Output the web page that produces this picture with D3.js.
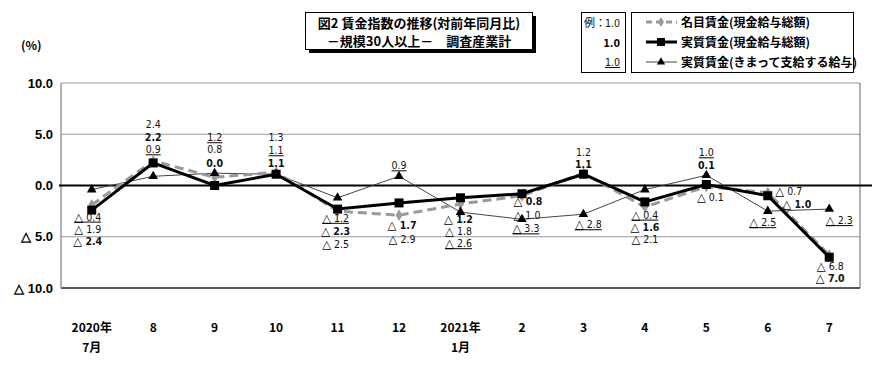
<!DOCTYPE html>
<html>
<head>
<meta charset="utf-8">
<script src="https://cdn.jsdelivr.net/npm/d3@7"></script>
<style>
  body { margin: 0; background: #fff; }
  svg { display: block; }
  .lbl { font-family: "DejaVu Sans Condensed", "DejaVu Sans", sans-serif; font-size: 10.5px; fill: #111; }
  .tri { font-family: "DejaVu Sans", sans-serif; font-size: 11.5px; fill: #000; }
  .jp { font-family: "Noto Sans CJK JP", sans-serif; font-weight: 700; fill: #000; }
</style>
</head>
<body>
<div id="chart"></div>
<script>
// months (2020年7月 .. 2021年7月)
const months = [`2020年|7月`, `8`, `9`, `10`, `11`, `12`, `2021年|1月`, `2`, `3`, `4`, `5`, `6`, `7`];
// 名目賃金（現金給与総額）
const nominal = [-1.9, 2.4, 0.8, 1.3, -2.5, -2.9, -1.8, -1.0, 1.2, -2.1, -0.1, -0.7, -6.8];
// 実質賃金（現金給与総額）
const realTotal = [-2.4, 2.2, 0.0, 1.1, -2.3, -1.7, -1.2, -0.8, 1.1, -1.6, 0.1, -1.0, -7.0];
// 実質賃金（きまって支給する給与）
const realScheduled = [-0.4, 0.9, 1.2, 1.1, -1.2, 0.9, -2.6, -3.3, -2.8, -0.4, 1.0, -2.5, -2.3];
const yTicks = [10, 5, 0, -5, -10];

// label placement relative to each point [dx, dy]
const offNominal = [[-4, 24], [0, -37], [0, -28], [0, -35], [-2, 33], [3, 24], [-2, 27], [5, 19], [0, -21], [0, 32], [4, 10], [21, -2], [1, 11]];
const offReal = [[-4, 31], [0, -26], [0, -23], [0, -11], [-2, 22], [3, 22], [-2, 21], [6, 7], [0, -10], [0, 25], [0, -19], [29, 8], [1, 21]];
const offSched = [[-4, 27], [0, -27], [0, -36], [0, -24], [-2, 20], [0, -11], [-2, 31], [4, 9], [5, 10], [0, 25], [0, -23], [-5, 11], [10, 11]];

const width = 890;
const height = 368;
const plot = {left: 61, right: 860, top: 83, bottom: 288};

const svg = d3.select(`#chart`).append(`svg`)
  .attr(`width`, width)
  .attr(`height`, height);

const x = d3.scalePoint()
  .domain(d3.range(months.length))
  .range([plot.left, plot.right])
  .padding(0.5);

const y = d3.scaleLinear()
  .domain([-10, 10])
  .range([plot.bottom, plot.top]);

// grid lines
svg.append(`g`)
  .selectAll(`line`)
  .data(yTicks.filter(d => d !== 0))
  .enter().append(`line`)
    .attr(`x1`, plot.left)
    .attr(`x2`, plot.right)
    .attr(`y1`, d => y(d))
    .attr(`y2`, d => y(d))
    .attr(`stroke`, d => d === -10 ? `#222` : `#999`)
    .attr(`stroke-width`, d => d === -10 ? 1.5 : 1);

// plot frame
svg.append(`line`)
  .attr(`x1`, plot.left).attr(`x2`, plot.left)
  .attr(`y1`, plot.top).attr(`y2`, plot.bottom)
  .attr(`stroke`, `#999`).attr(`stroke-width`, 1.5);
svg.append(`line`)
  .attr(`x1`, plot.right).attr(`x2`, plot.right)
  .attr(`y1`, plot.top).attr(`y2`, plot.bottom)
  .attr(`stroke`, `#666`).attr(`stroke-width`, 1);

// zero line
svg.append(`line`)
  .attr(`x1`, plot.left - 2).attr(`x2`, plot.right + 12)
  .attr(`y1`, y(0)).attr(`y2`, y(0))
  .attr(`stroke`, `#000`).attr(`stroke-width`, 2);

// y axis labels
const yAxis = d3.axisLeft(y)
  .tickValues(yTicks)
  .tickSize(0)
  .tickPadding(8)
  .tickFormat(d => d < 0 ? `△ ${Math.abs(d).toFixed(1)}` : d.toFixed(1));
const yG = svg.append(`g`)
  .attr(`transform`, `translate(${plot.left},0)`)
  .call(yAxis);
yG.select(`.domain`).remove();
yG.selectAll(`text`)
  .attr(`font-family`, `"Liberation Sans", Arial, sans-serif`)
  .attr(`font-size`, 13)
  .attr(`font-weight`, 700)
  .attr(`fill`, `#000`);

svg.append(`text`)
  .attr(`class`, `jp`)
  .attr(`x`, 21).attr(`y`, 50)
  .attr(`font-size`, 12)
  .text(`(%)`);

// x axis labels
const xG = svg.append(`g`);
months.forEach((m, i) => {
  const parts = m.split(`|`);
  parts.forEach((p, j) => {
    xG.append(`text`)
      .attr(`class`, `jp`)
      .attr(`x`, x(i))
      .attr(`y`, 332 + j * 20)
      .attr(`text-anchor`, `middle`)
      .attr(`font-size`, 12)
      .text(p);
  });
});

// series lines
const line = d3.line()
  .x((d, i) => x(i))
  .y(d => y(d));

svg.append(`path`)
  .datum(realScheduled)
  .attr(`fill`, `none`)
  .attr(`stroke`, `#444`)
  .attr(`stroke-width`, 1)
  .attr(`d`, line);

svg.append(`path`)
  .datum(nominal)
  .attr(`fill`, `none`)
  .attr(`stroke`, `#999`)
  .attr(`stroke-width`, 3)
  .attr(`stroke-dasharray`, `9,5`)
  .attr(`d`, line);

svg.append(`path`)
  .datum(realTotal)
  .attr(`fill`, `none`)
  .attr(`stroke`, `#000`)
  .attr(`stroke-width`, 3)
  .attr(`d`, line);

// markers
svg.append(`g`).selectAll(`path`)
  .data(nominal)
  .enter().append(`path`)
    .attr(`d`, d3.symbol(d3.symbolDiamond, 40))
    .attr(`transform`, (d, i) => `translate(${x(i)},${y(d)})`)
    .attr(`fill`, `#999`);

svg.append(`g`).selectAll(`path`)
  .data(realScheduled)
  .enter().append(`path`)
    .attr(`d`, d3.symbol(d3.symbolTriangle, 40))
    .attr(`transform`, (d, i) => `translate(${x(i)},${y(d)})`)
    .attr(`fill`, `#000`);

svg.append(`g`).selectAll(`rect`)
  .data(realTotal)
  .enter().append(`rect`)
    .attr(`x`, (d, i) => x(i) - 4.5)
    .attr(`y`, d => y(d) - 4.5)
    .attr(`width`, 9)
    .attr(`height`, 9)
    .attr(`fill`, `#000`);

// data labels
const addLabels = (values, offs, weight, underline) => {
  const t = svg.append(`g`).selectAll(`text`)
    .data(values)
    .enter().append(`text`)
      .attr(`class`, `lbl`)
      .attr(`x`, (d, i) => x(i) + offs[i][0])
      .attr(`y`, (d, i) => y(d) + offs[i][1] + 4)
      .attr(`text-anchor`, `middle`)
      .style(`font-weight`, weight)
      .attr(`text-decoration`, underline ? `underline` : null);
  t.filter(d => d < 0).append(`tspan`)
    .attr(`class`, `tri`)
    .text(`△`);
  t.append(`tspan`)
    .text(d => d < 0 ? ` ${Math.abs(d).toFixed(1)}` : d.toFixed(1));
};
addLabels(nominal, offNominal, 400, false);
addLabels(realTotal, offReal, 700, false);
addLabels(realScheduled, offSched, 400, true);

// title box
svg.append(`rect`)
  .attr(`x`, 309).attr(`y`, 16)
  .attr(`width`, 227).attr(`height`, 37)
  .attr(`fill`, `#000`);
svg.append(`rect`)
  .attr(`x`, 305.5).attr(`y`, 12.5)
  .attr(`width`, 227).attr(`height`, 37)
  .attr(`fill`, `#fff`)
  .attr(`stroke`, `#000`);
svg.append(`text`)
  .attr(`class`, `jp`)
  .attr(`x`, 419).attr(`y`, 28)
  .attr(`text-anchor`, `middle`)
  .attr(`font-size`, 13)
  .text(`図2 賃金指数の推移(対前年同月比)`);
svg.append(`text`)
  .attr(`class`, `jp`)
  .attr(`x`, 419).attr(`y`, 46)
  .attr(`text-anchor`, `middle`)
  .attr(`font-size`, 13)
  .text(`－規模30人以上－　調査産業計`);

// example box
svg.append(`rect`)
  .attr(`x`, 581.5).attr(`y`, 12.5)
  .attr(`width`, 44).attr(`height`, 60)
  .attr(`fill`, `#fff`)
  .attr(`stroke`, `#000`);
svg.append(`text`)
  .attr(`class`, `jp`)
  .attr(`x`, 584).attr(`y`, 27)
  .attr(`font-size`, 11)
  .style(`font-weight`, 400)
  .text(`例：`);
const exY = [27, 47, 66];
[[400, false], [700, false], [400, true]].forEach((s, i) => {
  svg.append(`text`)
    .attr(`class`, `lbl`)
    .attr(`x`, 620).attr(`y`, exY[i])
    .attr(`text-anchor`, `end`)
    .style(`font-weight`, s[0])
    .attr(`text-decoration`, s[1] ? `underline` : null)
    .text(`1.0`);
});

// legend
svg.append(`rect`)
  .attr(`x`, 631.5).attr(`y`, 12.5)
  .attr(`width`, 222).attr(`height`, 60)
  .attr(`fill`, `#fff`)
  .attr(`stroke`, `#000`);
const legendNames = [`名目賃金(現金給与総額)`, `実質賃金(現金給与総額)`, `実質賃金(きまって支給する給与)`];
const legY = [22, 42, 62];
const lg = svg.append(`g`);
lg.append(`line`).attr(`x1`, 646).attr(`x2`, 677).attr(`y1`, legY[0]).attr(`y2`, legY[0])
  .attr(`stroke`, `#999`).attr(`stroke-width`, 3).attr(`stroke-dasharray`, `6,4`);
lg.append(`path`).attr(`d`, d3.symbol(d3.symbolDiamond, 30)).attr(`transform`, `translate(661,${legY[0]})`).attr(`fill`, `#999`);
lg.append(`line`).attr(`x1`, 646).attr(`x2`, 677).attr(`y1`, legY[1]).attr(`y2`, legY[1])
  .attr(`stroke`, `#000`).attr(`stroke-width`, 3);
lg.append(`rect`).attr(`x`, 657).attr(`y`, legY[1] - 4).attr(`width`, 8).attr(`height`, 8).attr(`fill`, `#000`);
lg.append(`line`).attr(`x1`, 646).attr(`x2`, 677).attr(`y1`, legY[2]).attr(`y2`, legY[2])
  .attr(`stroke`, `#444`).attr(`stroke-width`, 1);
lg.append(`path`).attr(`d`, d3.symbol(d3.symbolTriangle, 30)).attr(`transform`, `translate(661,${legY[2]})`).attr(`fill`, `#000`);
legendNames.forEach((n, i) => {
  lg.append(`text`)
    .attr(`class`, `jp`)
    .attr(`x`, 681).attr(`y`, legY[i] + 5)
    .attr(`font-size`, 12)
    .text(n);
});
</script>
</body>
</html>
